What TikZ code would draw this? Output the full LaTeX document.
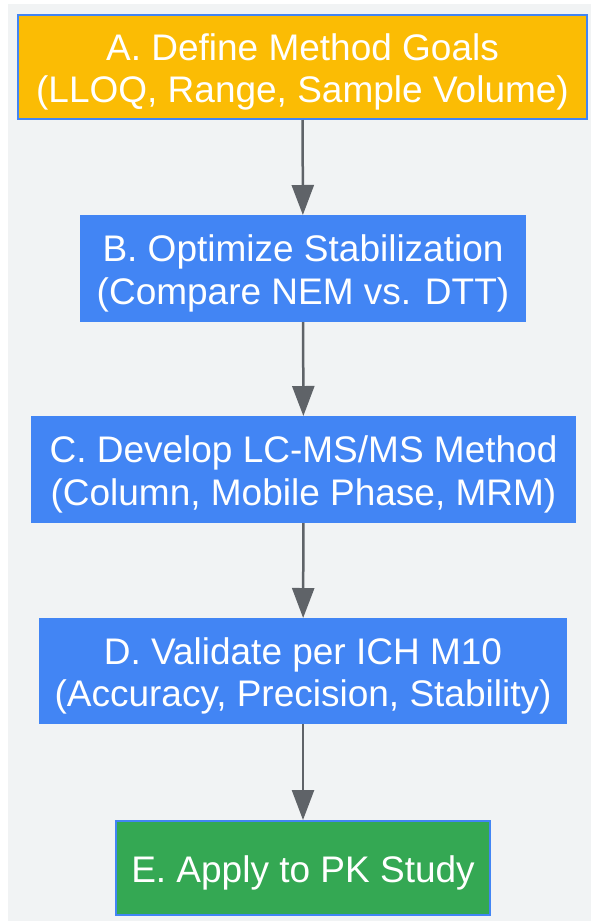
\documentclass[tikz,border=0pt]{standalone}
\usepackage{fontspec}
\setmainfont{Liberation Sans}
\usetikzlibrary{arrows.meta}
\definecolor{goalyellow}{HTML}{FBBC04}
\definecolor{stepblue}{HTML}{4285F4}
\definecolor{studygreen}{HTML}{34A853}
\definecolor{arrowgray}{HTML}{5F6368}
\definecolor{bggray}{HTML}{F1F3F4}
\newcommand{\toppad}{\rule{0pt}{37pt}}
\tikzset{
  stage/.style={draw=stepblue, line width=2pt, fill=stepblue, text=white, align=center,
    inner sep=0pt, font=\fontsize{37}{42.5}\selectfont},
  flow/.style={draw=arrowgray, line width=2.5pt, -{Triangle[length=30pt,width=22pt]}},
}
\begin{document}
\begin{tikzpicture}[x=1pt,y=-1pt]
	\useasboundingbox (0,0) rectangle (591,921);
	\fill[bggray] (8,4) rectangle (591,921);
	% stages, top to bottom
	\node[stage, fill=goalyellow, minimum width=569pt, minimum height=104pt] (goals) at (302.5,67) {\toppad A. Define Method Goals\\(LLOQ, Range, Sample Volume)};
	\node[stage, minimum width=444pt, minimum height=105pt] (stabil) at (303,268.5) {\toppad B. Optimize Stabilization\\(Compare NEM vs. DTT)};
	\node[stage, minimum width=543pt, minimum height=105pt] (lcms) at (303.5,469.5) {\toppad C. Develop LC-MS/MS Method\\(Column, Mobile Phase, MRM)};
	\node[stage, minimum width=526pt, minimum height=104pt] (valid) at (303,671) {\toppad D. Validate per ICH M10\\(Accuracy, Precision, Stability)};
	\node[stage, fill=studygreen, minimum width=374pt, minimum height=94pt] (pkstudy) at (303,868) {\toppad E. Apply to PK Study};
	% arrows
	\draw[flow] (goals) -- (stabil);
	\draw[flow] (stabil) -- (lcms);
	\draw[flow] (lcms) -- (valid);
	\draw[flow] (valid) -- (pkstudy);
\end{tikzpicture}
\end{document}
